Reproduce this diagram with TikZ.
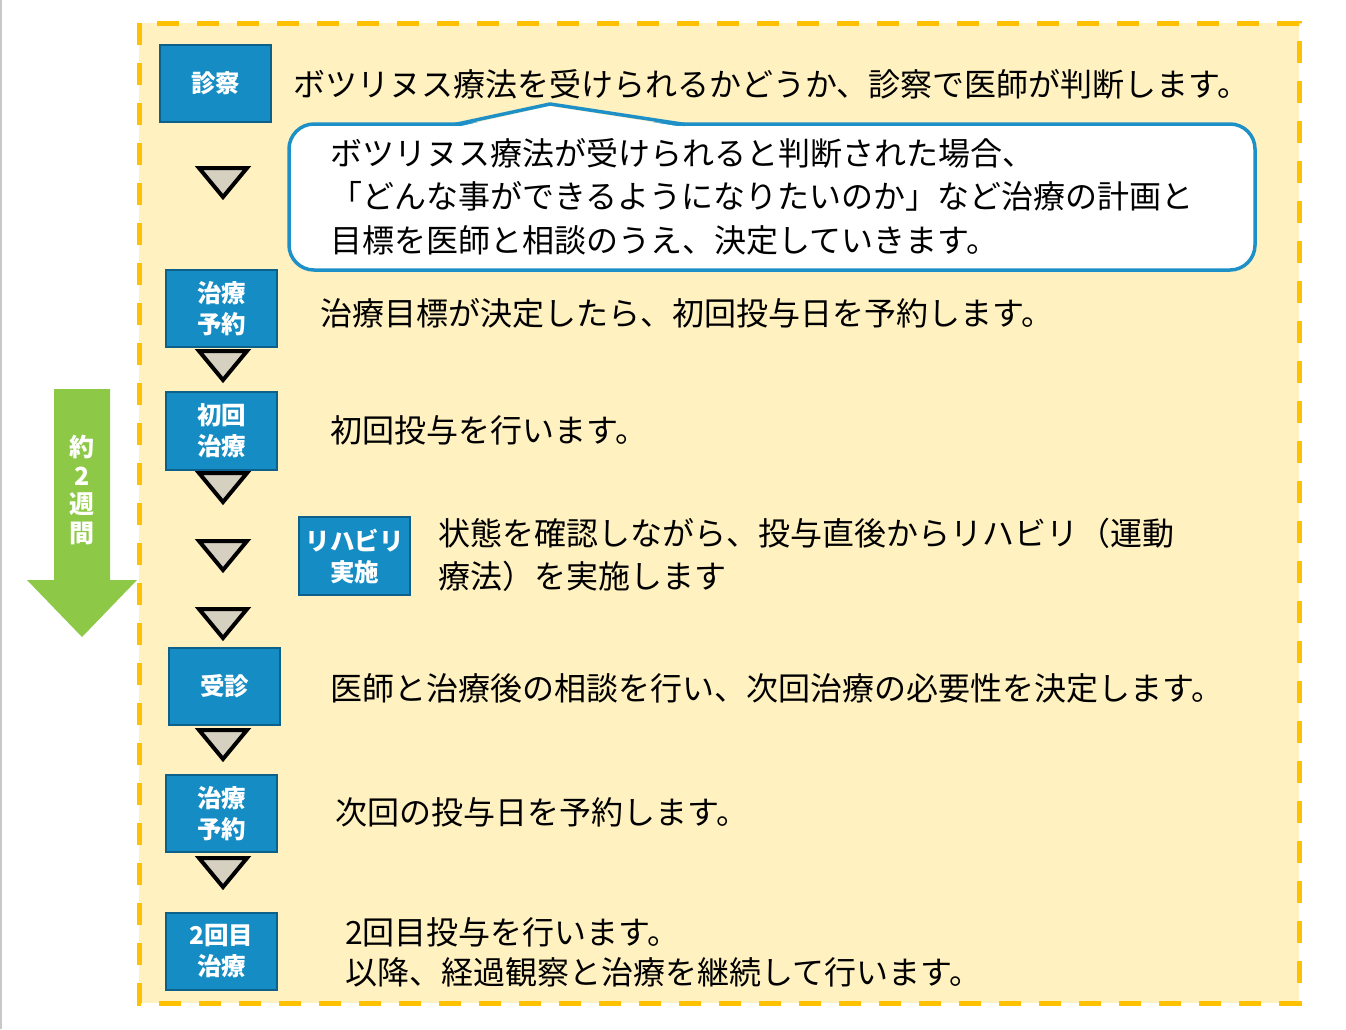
\documentclass[tikz,border=0pt]{standalone}
\usepackage{fontspec}
\setmainfont{Noto Sans CJK JP}
\definecolor{bgyellow}{RGB}{255,241,192}
\definecolor{dashor}{RGB}{255,192,0}
\definecolor{boxblue}{RGB}{22,140,196}
\definecolor{boxedge}{RGB}{12,96,138}
\definecolor{bubblue}{RGB}{30,144,200}
\definecolor{trifill}{RGB}{214,208,192}
\definecolor{arrgreen}{RGB}{141,200,70}
\definecolor{edgegray}{RGB}{200,200,200}
\tikzset{
  blk/.style={fill=boxblue, draw=boxedge, line width=1.5pt, text=white,
    font=\fontsize{24.5}{31}\selectfont\bfseries, align=center, inner sep=0pt,
    minimum width=111pt, minimum height=77pt},
  body/.style={anchor=west, inner sep=0pt, align=left,
    font=\fontsize{32}{43.5}\selectfont},
  dtri/.pic={\draw[fill=trifill, line width=4pt, line join=miter]
    (-24,3) -- (24,3) -- (0,32) -- cycle;},
  bubble/.style={draw=bubblue, fill=white, line width=3.5pt, rounded corners=25pt,
    minimum width=966pt, minimum height=146pt, inner sep=0pt}
}
\begin{document}
\begin{tikzpicture}[x=1pt,y=-1pt]
\useasboundingbox (0,0) rectangle (1346,1029);
\fill[white] (0,0) rectangle (1346,1029);
\fill[edgegray] (0,0) rectangle (2,1029);
% outer dashed frame
\draw[fill=bgyellow, draw=dashor, line width=5pt, dash pattern=on 22pt off 18pt]
  (139,23) rectangle (1299,1003);
% green arrow
\fill[arrgreen] (54,389) -- (110,389) -- (110,580) -- (137,580) -- (82,637)
  -- (27,580) -- (54,580) -- cycle;
\node[text=white, font=\fontsize{25}{28.5}\selectfont\bfseries, align=center, inner sep=0pt]
  (arrtxt) at (82,490) {約\\2\\週\\間};
% bubble
\node[bubble] (bub) at (772,197) {};
\fill[white] (457,127) -- (550,106) -- (683,127) -- cycle;
\draw[bubblue, line width=3.5pt, line join=round] (455,124.5) -- (550,104) -- (685,124.5);
% blue boxes
\node[blk] (b1) at (215.5,83.5) {診察};
\node[blk] (b2) at (221.5,308.5) {治療\\予約};
\node[blk, minimum height=78pt] (b3) at (221.5,431) {初回\\治療};
\node[blk, minimum height=78pt] (b4) at (354.5,556) {リハビリ\\実施};
\node[blk] (b5) at (224.5,686.5) {受診};
\node[blk] (b6) at (221.5,813.5) {治療\\予約};
\node[blk] (b7) at (221.5,951.5) {2回目\\治療};
% triangles
\pic at (223,165) {dtri};
\pic at (223,348) {dtri};
\pic at (223,470) {dtri};
\pic at (223,538) {dtri};
\pic at (223,606) {dtri};
\pic at (223,727) {dtri};
\pic at (223,855) {dtri};
% texts
\node[body] (t1) at (293,84) {ボツリヌス療法を受けられるかどうか、診察で医師が判断します。};
\node[body] (tb) at (330,196.5) {ボツリヌス療法が受けられると判断された場合、\\「どんな事ができるようになりたいのか」など治療の計画と\\目標を医師と相談のうえ、決定していきます。};
\node[body] (t2) at (320,313) {治療目標が決定したら、初回投与日を予約します。};
\node[body] (t3) at (330,430) {初回投与を行います。};
\node[body, font=\fontsize{32}{43}\selectfont] (t4) at (438,554.5) {状態を確認しながら、投与直後からリハビリ（運動\\療法）を実施します};
\node[body] (t5) at (330,688) {医師と治療後の相談を行い、次回治療の必要性を決定します。};
\node[body] (t6) at (335,812) {次回の投与日を予約します。};
\node[body, font=\fontsize{32}{40}\selectfont] (t7) at (345,952) {2回目投与を行います。\\以降、経過観察と治療を継続して行います。};
\end{tikzpicture}
\end{document}
